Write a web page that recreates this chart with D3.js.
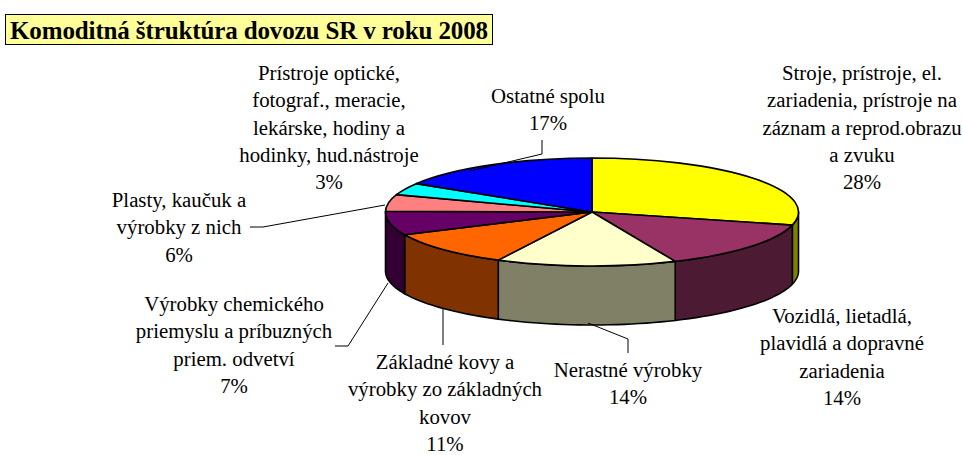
<!DOCTYPE html>
<html><head><meta charset="utf-8">
<style>html,body{margin:0;padding:0;background:#fff}svg{display:block}text{font-family:"Liberation Serif",serif;fill:#000}</style>
<script src="https://cdn.jsdelivr.net/npm/d3@7"></script></head>
<body><svg id="c" width="963" height="455"></svg>
<script>
const chartTitle = "Komoditná štruktúra dovozu SR v roku 2008";
const categories = ["Stroje, prístroje, el. zariadenia, prístroje na záznam a reprod.obrazu a zvuku","Vozidlá, lietadlá, plavidlá a dopravné zariadenia","Nerastné výrobky","Základné kovy a výrobky zo základných kovov","Výrobky chemického priemyslu a príbuzných priem. odvetví","Plasty, kaučuk a výrobky z nich","Prístroje optické, fotograf., meracie, lekárske, hodiny a hodinky, hud.nástroje","Ostatné spolu"];
const shares = [28.9,14.5,14.1,10.6,7.1,5.0,3.6,16.2];
const percentLabels = ["28%","14%","14%","11%","7%","6%","3%","17%"];
const labelLines = [
 ["Stroje, prístroje, el.","zariadenia, prístroje na","záznam a reprod.obrazu","a zvuku"],
 ["Vozidlá, lietadlá,","plavidlá a dopravné","zariadenia"],
 ["Nerastné výrobky"],
 ["Základné kovy a","výrobky zo základných","kovov"],
 ["Výrobky chemického","priemyslu a príbuzných","priem. odvetví"],
 ["Plasty, kaučuk a","výrobky z nich"],
 ["Prístroje optické,","fotograf., meracie,","lekárske, hodiny a","hodinky, hud.nástroje"],
 ["Ostatné spolu"]];
const topColors = ["#FFFF00","#993366","#FFFFCC","#FF6600","#660066","#FF8080","#00FFFF","#0000FF"];
const sideColors = ["#808000","#4D1A33","#808066","#803300","#330033","#804040","#008080","#000080"];

const cx=592, cy=212, rx=206.5, ry=54, depth=59;
const svg=d3.select("#c");
const px=a=>cx+rx*Math.sin(a), py=a=>cy-ry*Math.cos(a);
const slices=d3.pie().sort(null).value(d=>d)(shares);

svg.append("rect").attr("x",5.5).attr("y",14.5).attr("width",487).attr("height",30).attr("fill","#FFFF99").attr("stroke","#000");
svg.append("text").attr("x",249).attr("y",39).attr("text-anchor","middle").attr("font-weight","bold").attr("font-size",25).attr("textLength",478).attr("lengthAdjust","spacing").text(chartTitle);

const line=d3.line().x(d=>d[0]).y(d=>d[1]);
const wall=(a0,a1)=>{
  const t=d3.range(0,25).map(i=>a0+(a1-a0)*i/24);
  const pts=t.map(a=>[px(a),py(a)]).concat(t.slice().reverse().map(a=>[px(a),py(a)+depth]));
  return line(pts)+"Z";
};
const g=svg.append("g").attr("stroke","#000").attr("stroke-width",1.6).attr("stroke-linejoin","round");
slices.forEach((s,i)=>{
  const a0=Math.max(s.startAngle,Math.PI/2), a1=Math.min(s.endAngle,3*Math.PI/2);
  if(a1>a0) g.append("path").attr("d",wall(a0,a1)).attr("fill",sideColors[i]);
});
const arc=d3.arc().innerRadius(0).outerRadius(1);
const pieTop=svg.append("g").attr("transform",`translate(${cx},${cy}) scale(${rx},${ry})`);
pieTop.selectAll("path").data(slices).join("path").attr("d",arc).attr("fill",(d,i)=>topColors[i])
  .attr("stroke","#000").attr("stroke-width",1.6).attr("vector-effect","non-scaling-stroke").attr("stroke-linejoin","round");

const leaders=[[[542,140],[542,154],[470,171]],[[250,227],[263,227],[385,205]],[[335,346],[348,346],[388,283]],[[443,309],[443,345]],[[628,353],[628,339],[588,323]]];
svg.append("g").selectAll("path").data(leaders).join("path").attr("d",line).attr("fill","none").attr("stroke","#000").attr("stroke-width",1);

const labelPos=[[862,74],[842,317],[628,371],[445,363],[234,305],[179,201],[329,74],[548,97]];
const lh=27.3;
labelLines.forEach((ls,i)=>{
  const [x,y]=labelPos[i];
  const t=svg.append("text").attr("text-anchor","middle").attr("font-size",20.8);
  ls.concat(percentLabels[i]).forEach((l,j)=>t.append("tspan").attr("x",x).attr("y",y+6+j*lh).text(l));
});
</script></body></html>
